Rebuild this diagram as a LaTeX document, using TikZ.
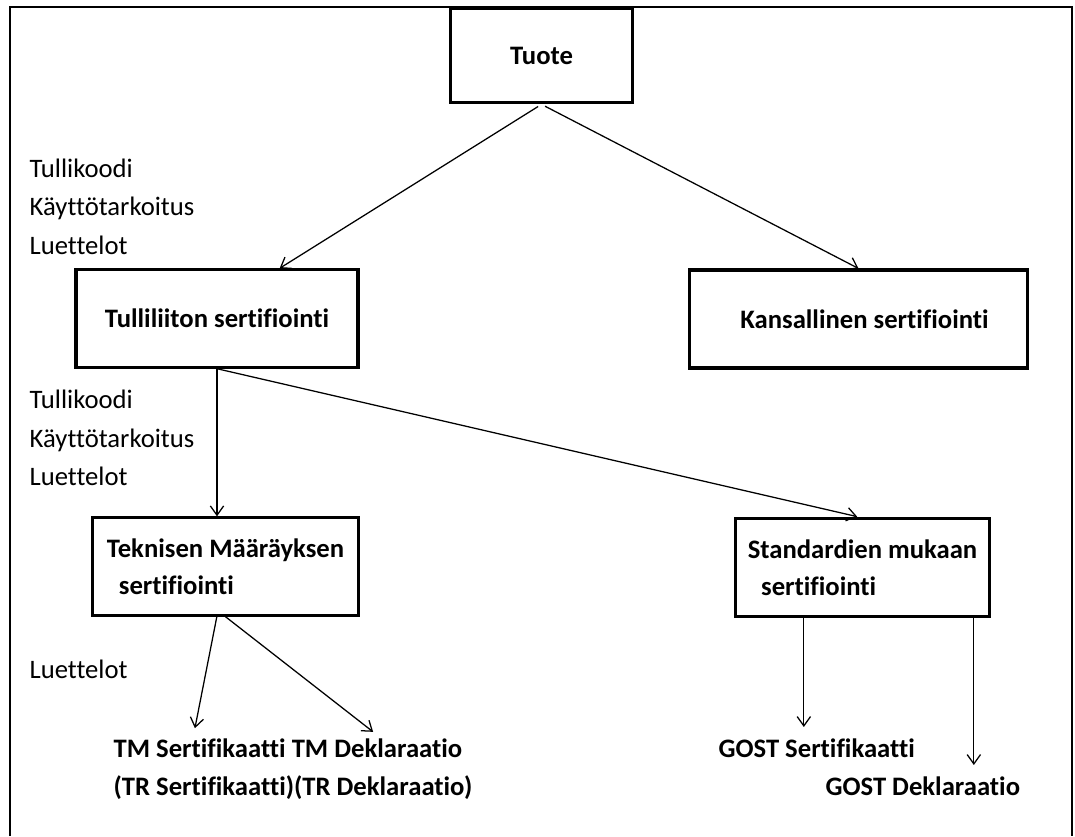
\documentclass[tikz,border=0pt]{standalone}
\usepackage{fontspec}
\setmainfont{Carlito}[Ligatures=NoCommon]
\usetikzlibrary{arrows.meta, positioning}

\begin{document}
\begin{tikzpicture}
[x=0.75pt, y=-0.75pt, line width=0.95pt,
>={Straight Barb[length=7pt,width=10pt]},
CertNode/.style={rectangle, draw=black, line width=2.3pt,
align=left, font=\fontsize{20pt}{28pt}\selectfont\bfseries},
LabelText/.style={anchor=base west, inner sep=0pt,
font=\fontsize{20pt}{28pt}\selectfont},
ResultText/.style={inner sep=0pt, align=left,
font=\fontsize{20pt}{28.5pt}\selectfont\bfseries}
]
\useasboundingbox (0,0) rectangle (1075,836);
\draw[line width=1.4pt] (10,836) -- (10,7) -- (1072,7) -- (1072,836);

\node[CertNode, minimum width=137pt, minimum height=71pt] (Tuote) at (541.5,55.5) {Tuote};
\node[CertNode, minimum width=211.5pt, minimum height=73pt] (Tulliliitto) at (217,318.5) {Tulliliiton sertifiointi};
\node[CertNode, minimum width=253pt, minimum height=73.5pt] (Kansallinen) at (858.5,319) {\hspace*{9pt}Kansallinen sertifiointi};
\node[CertNode, minimum width=199pt, minimum height=73pt] (Tekninen) at (225.5,566.5) {Teknisen Määräyksen\\\hspace*{9pt}sertifiointi};
\node[CertNode, minimum width=191pt, minimum height=74pt] (Standardit) at (862.5,567.5) {Standardien mukaan\\\hspace*{10pt}sertifiointi};

% criteria on the left
\node[LabelText] (Koodi1) at (29,177) {Tullikoodi};
\node[LabelText] (Kaytto1) at (29,215) {Käyttötarkoitus};
\node[LabelText] (Luettelo1) at (29,254) {Luettelot};
\node[LabelText] (Koodi2) at (29,408) {Tullikoodi};
\node[LabelText] (Kaytto2) at (29,447) {Käyttötarkoitus};
\node[LabelText] (Luettelo2) at (29,485) {Luettelot};
\node[LabelText] (Luettelo3) at (29,678) {Luettelot};

\node[ResultText, anchor=north west] (TMDocs) at (113,738) {TM Sertifikaatti TM Deklaraatio\\(TR Sertifikaatti)(TR Deklaraatio)};
\node[ResultText, anchor=base west] (GostCert) at (718,757) {GOST Sertifikaatti};
\node[ResultText, anchor=base west] (GostDekl) at (825,795) {GOST Deklaraatio};

\draw[->, shorten <=3pt] (Tuote.south) -- ([xshift=47pt]Tulliliitto.north);
\draw[->, shorten <=3pt] (Tuote.south) -- (Kansallinen.north);
\draw[->] (Tulliliitto.south) -- (Tulliliitto.south |- Tekninen.north);
\draw[->] (Tulliliitto.south) -- ([xshift=-4pt]Standardit.north);

\draw[->, shorten >=7.5pt] ([xshift=-6.5pt]Tekninen.south) -- ([xshift=-75pt]TMDocs.north);
\draw[->, shorten >=7.5pt] (Tekninen.south) -- ([xshift=66pt]TMDocs.north);
\draw[->, shorten >=8pt] ([xshift=-44pt]Standardit.south) -- ([xshift=-44pt]Standardit.south |- GostCert.north);
\draw[->, shorten >=8pt] ([xshift=83.5pt]Standardit.south) -- ([xshift=83.5pt]Standardit.south |- GostDekl.north);
\end{tikzpicture}
\end{document}
